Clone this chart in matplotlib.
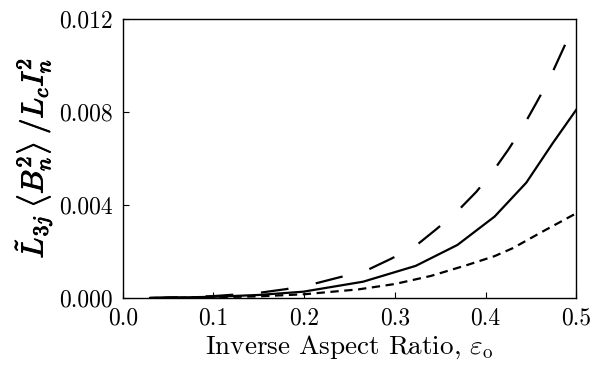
import matplotlib
matplotlib.use("Agg")
import matplotlib.pyplot as plt
import matplotlib.patheffects as pe

plt.rcParams['font.family'] = 'serif'
plt.rcParams['font.serif'] = ['cmr10']
plt.rcParams['mathtext.fontset'] = 'cm'
plt.rcParams['axes.formatter.use_mathtext'] = True
plt.rcParams['lines.scale_dashes'] = False

# data
eps_solid = [0.03, 0.10, 0.15, 0.199, 0.265, 0.323, 0.369, 0.41, 0.445, 0.474, 0.50]
val_solid = [0.0, 0.00005, 0.00013, 0.00027, 0.00070, 0.00138, 0.00228, 0.0035, 0.00496, 0.00665, 0.00809]

eps_long = [0.03, 0.10, 0.15, 0.18, 0.209, 0.239, 0.268, 0.2955, 0.322, 0.3455, 0.368, 0.39,
            0.408, 0.425, 0.441, 0.4565, 0.4705, 0.488]
val_long = [0.0, 0.00008, 0.00022, 0.00038, 0.00059, 0.00089, 0.00117, 0.00168, 0.00221, 0.00295,
            0.00369, 0.00457, 0.00543, 0.00637, 0.00734, 0.00842, 0.00942, 0.01091]

eps_short = [0.03, 0.10, 0.15, 0.20, 0.26, 0.30, 0.34, 0.38, 0.41, 0.43, 0.465, 0.50]
val_short = [0.0, 0.00003, 0.00007, 0.00016, 0.00037, 0.0006, 0.00095, 0.00142, 0.0018, 0.00214, 0.0029, 0.00364]

xticks = [0.0, 0.1, 0.2, 0.3, 0.4, 0.5]
yticks = [0.0, 0.004, 0.008, 0.012]

fig = plt.figure(figsize=(6.11, 3.72), dpi=100)
ax = fig.add_axes([0.201, 0.199, 0.742, 0.750])

ax.plot(eps_long, val_long, color='black', lw=1.6, dashes=(20, 20))
ax.plot(eps_solid, val_solid, color='black', lw=1.6)
ax.plot(eps_short, val_short, color='black', lw=1.6, dashes=(6, 4))

ax.set_xlim(0, 0.5)
ax.set_ylim(0, 0.012)
ax.set_xticks(xticks)
ax.set_yticks(yticks)
ax.set_xticklabels(['0.0', '0.1', '0.2', '0.3', '0.4', '0.5'])
ax.set_yticklabels(['0.000', '0.004', '0.008', '0.012'])
ax.tick_params(direction='in', length=4, width=0.8, labelsize=17, pad=7)

ax.set_xlabel(r'Inverse Aspect Ratio, $\varepsilon_{\rm o}$', fontsize=19.5, labelpad=3)
ylab = ax.set_ylabel(r'$\tilde{L}_{3j}\;\left\langle B_n^2\right\rangle\;/L_c I_n^2$', fontsize=22, labelpad=4)
ylab.set_path_effects([pe.withStroke(linewidth=0.7, foreground='black')])

for s in ax.spines.values():
    s.set_linewidth(1.0)

fig.savefig('out.png', dpi=100)
